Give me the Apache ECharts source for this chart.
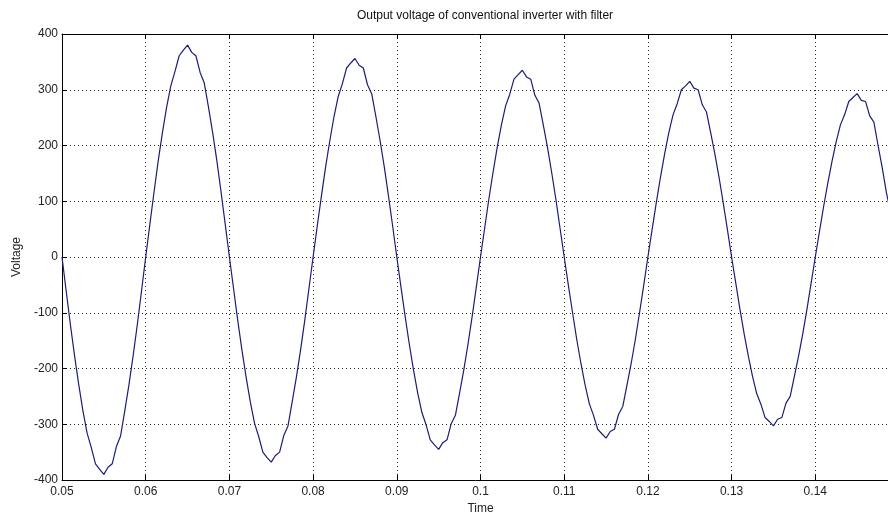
<!DOCTYPE html>
<html>
<head>
<meta charset="utf-8">
<script src="https://cdn.jsdelivr.net/npm/echarts@6/dist/echarts.min.js"></script>
<style>
html,body{margin:0;padding:0;background:#fff;}
#chart{width:888px;height:516px;}
</style>
</head>
<body>
<div id="chart"></div>
<script>
// Title and axis labels
var titleText = "Output voltage of conventional inverter with filter";
var xName = "Time";
var yName = "Voltage";

// Time sampling of the read-off values (seconds)
var tStart = 0.05;
var tStep = 0.0005;

// Voltage values, one per 0.5 ms, from t = 0.05 to t = 0.15
var halfCycle1 = [0,-61,-121,-177,-229,-276,-316,-342,-371,-381,-390,-377,-371,-340,-321,-276,-229,-177,-121,-61];
var halfCycle2 = [0,59,117,173,223,269,307,333,361,371,380,367,361,331,312,269,223,173,117,59];
var halfCycle3 = [0,-57,-114,-167,-216,-260,-298,-322,-350,-360,-368,-356,-350,-320,-303,-260,-216,-167,-114,-57];
var halfCycle4 = [0,56,110,162,209,252,288,311,339,348,356,344,339,309,293,252,209,162,110,56];
var halfCycle5 = [0,-54,-107,-157,-203,-244,-279,-301,-328,-337,-345,-333,-328,-299,-284,-244,-203,-157,-107,-54];
var halfCycle6 = [0,52,104,152,197,237,271,292,319,327,335,323,319,290,276,237,197,152,104,52];
var halfCycle7 = [0,-51,-100,-148,-191,-230,-263,-284,-309,-317,-325,-313,-309,-282,-268,-230,-191,-148,-100,-51];
var halfCycle8 = [0,49,97,143,185,223,255,275,300,307,315,303,300,273,260,223,185,143,97,49];
var halfCycle9 = [0,-47,-94,-138,-178,-214,-245,-264,-288,-295,-303,-291,-288,-262,-250,-214,-178,-138,-94,-47];
var halfCycle10 = [0,46,91,133,172,207,237,255,279,286,293,281,279,253,242,200,160,115,80,40];
var lastValue = [0];

// Axis ranges / ticks
var xMin = 0.05, xMax = 0.15, xInterval = 0.01;
var yMin = -400, yMax = 400, yInterval = 100;

var voltage = [].concat(halfCycle1, halfCycle2, halfCycle3, halfCycle4, halfCycle5,
  halfCycle6, halfCycle7, halfCycle8, halfCycle9, halfCycle10, lastValue);
var seriesData = voltage.map(function (v, i) {
  return [+(tStart + i * tStep).toFixed(5), v];
});

var FONT = "'Liberation Sans', Arial, Helvetica, sans-serif";
var chart = echarts.init(document.getElementById('chart'), null, {renderer: 'canvas'});
var option = {
  backgroundColor: '#ffffff',
  animation: false,
  title: {
    text: titleText,
    left: 480,
    textAlign: 'center',
    top: 5,
    textStyle: {fontFamily: FONT, fontSize: 12, fontWeight: 'normal', color: '#111'}
  },
  grid: {left: 62, top: 34, width: 837, height: 446, containLabel: false, outerBoundsMode: 'none'},
  xAxis: [{
    type: 'value',
    min: xMin, max: xMax, interval: xInterval,
    name: xName,
    nameLocation: 'middle',
    nameGap: 22,
    nameTextStyle: {fontFamily: FONT, fontSize: 12, color: '#222'},
    axisLine: {show: true, onZero: false, lineStyle: {color: '#000', width: 1}},
    axisTick: {show: true, inside: true, length: 5, lineStyle: {color: '#000'}},
    axisLabel: {
      fontFamily: FONT, fontSize: 12, color: '#222', margin: 6,
      showMaxLabel: false,
      formatter: function (v) { return String(+v.toFixed(2)); }
    },
    splitLine: {show: true, lineStyle: {color: '#222', width: 1, type: [1, 3]}}
  }, {
    type: 'value',
    position: 'top',
    min: xMin, max: xMax, interval: xInterval,
    axisLine: {show: true, onZero: false, lineStyle: {color: '#000', width: 1}},
    axisTick: {show: true, inside: true, length: 5, lineStyle: {color: '#000'}},
    axisLabel: {show: false},
    splitLine: {show: false}
  }],
  yAxis: {
    type: 'value',
    min: yMin, max: yMax, interval: yInterval,
    name: yName,
    nameLocation: 'middle',
    nameGap: 38,
    nameRotate: 90,
    nameTextStyle: {fontFamily: FONT, fontSize: 12, color: '#222'},
    axisLine: {show: true, onZero: false, lineStyle: {color: '#000', width: 1}},
    axisTick: {show: true, inside: true, length: 5, lineStyle: {color: '#000'}},
    axisLabel: {fontFamily: FONT, fontSize: 12, color: '#222', margin: 4},
    splitLine: {show: true, lineStyle: {color: '#222', width: 1, type: [1, 3]}}
  },
  series: [{
    type: 'line',
    xAxisIndex: 0,
    data: seriesData,
    showSymbol: false,
    smooth: false,
    clip: true,
    lineStyle: {color: '#1c1c78', width: 1.2}
  }]
};
chart.setOption(option);
</script>
</body>
</html>
